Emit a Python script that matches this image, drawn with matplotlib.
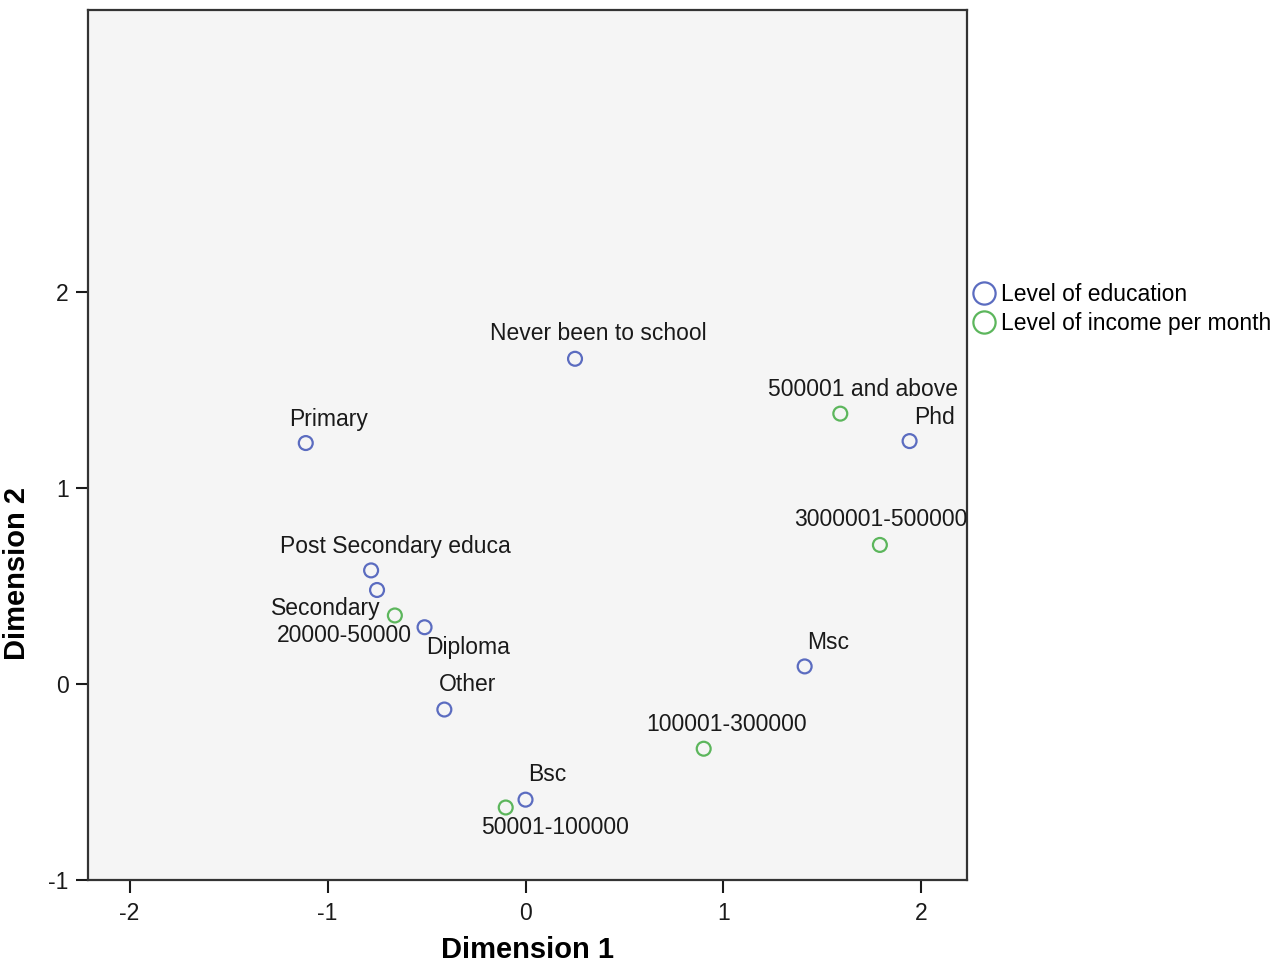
import matplotlib.pyplot as plt
from matplotlib.lines import Line2D

plt.rcParams['font.family'] = ['Liberation Sans', 'DejaVu Sans']
plt.rcParams['axes.unicode_minus'] = False

# Level of education (blue points)
edu_labels = ["Never been to school", "Primary", "Phd", "Post Secondary educa",
              "Secondary", "Diploma", "Other", "Msc", "Bsc"]
edu_x = [0.25, -1.11, 1.94, -0.78, -0.75, -0.51, -0.41, 1.41, 0.0]
edu_y = [1.66, 1.23, 1.24, 0.58, 0.48, 0.29, -0.13, 0.09, -0.59]

# Level of income per month (green points)
inc_labels = ["500001 and above", "3000001-500000", "20000-50000",
              "100001-300000", "50001-100000"]
inc_x = [1.59, 1.79, -0.66, 0.90, -0.10]
inc_y = [1.38, 0.71, 0.35, -0.33, -0.63]

# label offsets in pixels (dx, dy), picked to match the reference
edu_off = [(23, 25), (23, 24), (25, 24), (24, 24), (-51, -19),
           (44, -20), (23, 25), (23, 24), (22, 25)]
inc_off = [(23, 24), (1, 25), (-50, -20), (23, 24), (49, -20)]

blue = "#5b6cc0"
green = "#5cb65c"

fig = plt.figure(figsize=(12.81, 9.67), dpi=100)
ax = fig.add_axes([88/1281, 1-880/967, 879/1281, 870/967])
ax.set_facecolor("#f5f5f5")

ax.scatter(edu_x, edu_y, s=100, facecolors="none", edgecolors=blue, linewidths=1.6, zorder=3)
ax.scatter(inc_x, inc_y, s=100, facecolors="none", edgecolors=green, linewidths=1.6, zorder=3)

for lab, x, y, (dx, dy) in zip(edu_labels, edu_x, edu_y, edu_off):
    ax.annotate(lab, (x, y), xytext=(dx, dy), textcoords="offset pixels",
                ha="center", va="center", fontsize=16.5, color="#1a1a1a")
for lab, x, y, (dx, dy) in zip(inc_labels, inc_x, inc_y, inc_off):
    ax.annotate(lab, (x, y), xytext=(dx, dy), textcoords="offset pixels",
                ha="center", va="center", fontsize=16.5, color="#1a1a1a")

ax.set_xlim(-2.21, 2.23)
ax.set_ylim(-1, 3.44)
ax.set_xticks([-2, -1, 0, 1, 2])
ax.set_yticks([-1, 0, 1, 2])
ax.tick_params(direction="out", length=9, width=1.5, labelsize=16.5, pad=5, colors="#1a1a1a")
ax.tick_params(axis="x", pad=7)
for sp in ax.spines.values():
    sp.set_linewidth(1.6)
    sp.set_color("#333333")

ax.set_xlabel("Dimension 1", fontsize=21, fontweight="bold", labelpad=8)
ax.set_ylabel("Dimension 2", fontsize=21, fontweight="bold")
ax.yaxis.set_label_coords(-0.065, 0.352)

handles = [Line2D([], [], marker="o", linestyle="none", markersize=16,
                  markerfacecolor="none", markeredgecolor=blue, markeredgewidth=1.6),
           Line2D([], [], marker="o", linestyle="none", markersize=16,
                  markerfacecolor="none", markeredgecolor=green, markeredgewidth=1.6)]
fig.legend(handles, ["Level of education", "Level of income per month"],
           loc="upper left", bbox_to_anchor=(961/1281, 1-274/967), frameon=False,
           fontsize=16.5, handletextpad=0.15, labelspacing=0.25, borderaxespad=0,
           handlelength=1.2)

fig.savefig("out.png", dpi=100)
